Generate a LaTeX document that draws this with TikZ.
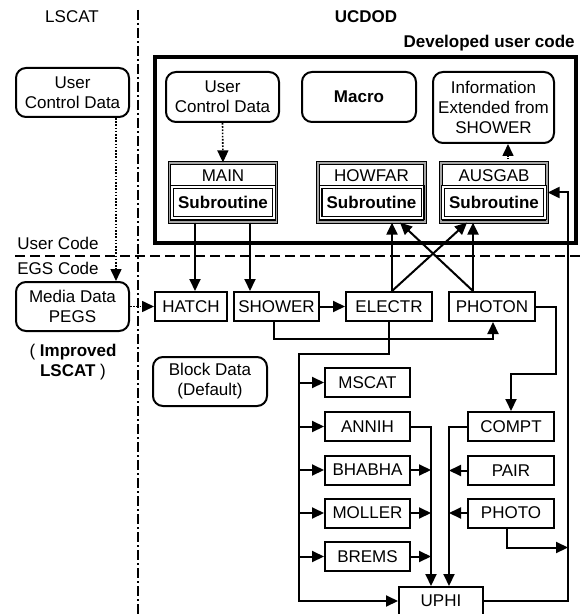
\documentclass[tikz,border=0pt]{standalone}
\usepackage{fontspec}
\setmainfont{Liberation Sans}
\usetikzlibrary{arrows.meta,calc}

\tikzset{
  every node/.style={font=\fontsize{8.5}{10}\selectfont, inner sep=0pt, align=center},
  procbox/.style={draw, line width=1pt, minimum width=42.5pt, minimum height=14.5pt},
  databox/.style={draw, line width=1pt, rounded corners=5pt, minimum width=56.5pt, minimum height=24.5pt},
  subouter/.style={draw, line width=0.6pt, double=gray!70, double distance=0.6pt, minimum width=53.5pt, minimum height=29.5pt},
  subinner/.style={draw, line width=0.6pt, double distance=0.8pt, minimum width=51pt, minimum height=15.5pt, font=\fontsize{8.5}{10}\selectfont\bfseries},
  flow/.style={line width=1pt, -{Triangle[length=6pt,width=5.5pt]}},
  dataflow/.style={flow, line width=0.8pt, dash pattern=on 0.8pt off 0.8pt},
}

\begin{document}
\begin{tikzpicture}[x=0.5pt,y=-0.5pt]
\useasboundingbox (0,0) rectangle (583,614);
% region borders
\draw[line width=1pt, dash pattern=on 5pt off 1.5pt on 1pt off 1.5pt] (138,10) -- (138,614);
\draw[line width=1pt, dash pattern=on 5pt off 2.5pt] (15,256) -- (583,256);
\node (lscat) at (72,17) {LSCAT};
\node[font=\fontsize{8.5}{10}\selectfont\bfseries] (ucdod) at (366,17) {UCDOD};
\node[font=\fontsize{8.5}{10}\selectfont\bfseries, anchor=east] (devlabel) at (575,43) {Developed user code};
\node[anchor=west] (usercode) at (17,243) {User Code};
\node[anchor=west] (egscode) at (17,268) {EGS Code};
\node[draw, line width=2pt, minimum width=210.5pt, minimum height=93pt] (devbox) at (365.5,150) {};
% data boxes
\node[databox] (ucdL) at (72.5,92.5) {User\\Control Data};
\node[databox, minimum height=25pt] (ucdI) at (222.5,97) {User\\Control Data};
\node[databox, minimum width=57pt, minimum height=25pt, font=\fontsize{8.5}{10}\selectfont\bfseries] (macro) at (359,97) {Macro};
\node[databox, minimum width=60.5pt, minimum height=35.5pt] (info) at (493.5,107.5) {Information\\Extended from\\SHOWER};
\node[databox] (media) at (72.5,306.5) {Media Data\\PEGS};
\node (improved) at (73,362) {( \textbf{Improved}\\\textbf{LSCAT} )};
\node[databox, minimum width=57pt] (blockdata) at (210,381.5) {Block Data\\(Default)};
% user subroutines
\node[subouter] (mainbox) at (223,192.5) {};
\node[subinner] (mainsub) at (223,202.5) {Subroutine};
\node (maintitle) at (223,176) {MAIN};
\node[subouter] (howfar) at (371.5,192.5) {};
\node[subinner] (howfarsub) at (371.5,202.5) {Subroutine};
\node (howfartitle) at (371.5,176) {HOWFAR};
\node[subouter, minimum width=53pt] (ausgab) at (494,192.5) {};
\node[subinner] (ausgabsub) at (494,202.5) {Subroutine};
\node (ausgabtitle) at (494,176) {AUSGAB};
% EGS routines
\node[procbox, minimum width=36pt] (hatch) at (191,306.5) {HATCH};
\node[procbox] (shower) at (276.5,306.5) {SHOWER};
\node[procbox, minimum width=43pt] (electr) at (389,306.5) {ELECTR};
\node[procbox, minimum width=43pt] (photon) at (492,306.5) {PHOTON};
\node[procbox] (mscat) at (367.5,382.5) {MSCAT};
\node[procbox] (annih) at (367.5,426.5) {ANNIH};
\node[procbox] (bhabha) at (367.5,470) {BHABHA};
\node[procbox] (moller) at (367.5,513) {MOLLER};
\node[procbox] (brems) at (367.5,556.5) {BREMS};
\node[procbox, minimum width=43pt] (compt) at (511,426.5) {COMPT};
\node[procbox, minimum width=43pt] (pair) at (511,470.5) {PAIR};
\node[procbox, minimum width=43pt] (photo) at (511,513) {PHOTO};
\node[procbox, minimum width=42pt, minimum height=14pt] (uphi) at (441,601) {UPHI};
% helper points
\coordinate (mainL) at ($(mainbox.south)+(-28,0)$);
\coordinate (mainR) at ($(mainbox.south)+(27,0)$);
\coordinate (electrtop) at ($(electr.north)+(3,0)$);
\coordinate (photontop) at ($(photon.north)+(-19,0)$);
\coordinate (ebus) at (299,354);
\coordinate (rbus) at (568,400);
\coordinate (uphiL) at ($(uphi.north)+(-10,0)$);
\coordinate (uphiR) at ($(uphi.north)+(8,0)$);
\coordinate (photobend) at ($(photo.south)+(-4,19)$);
% data flow
\draw[dataflow] ($(ucdL.south)+(43.5,0)$) -- ($(media.north)+(43.5,0)$);
\draw[dataflow] (media.east) -- (hatch.west);
\draw[dataflow] (ucdI.south) -- (mainbox.north);
\draw[dataflow] ($(ausgab.north)+(14,0)$) -- ($(ausgab.north |- info.south)+(14,0)$);
% calls
\draw[flow] (mainL) -- (mainL |- hatch.north);
\draw[flow] (mainR) -- (mainR |- shower.north);
\draw[flow] (shower.east) -- (electr.west);
\draw[flow] ($(shower.south)+(-2.5,0)$) -- ++(0,17) -| ($(photon.south)+(1,0)$);
\draw[flow] (electrtop) -- (electrtop |- howfar.south);
\draw[flow] (electrtop) -- ($(ausgab.south)+(-27,0)$);
\draw[flow] (photontop) -- (photontop |- ausgab.south);
\draw[flow] (photontop) -- ($(howfar.south)+(28.5,0)$);
\draw[flow] (electr.south) |- (ebus) |- (uphi.west);
\foreach \proc in {mscat,annih,bhabha,moller,brems}
  \draw[flow] (ebus |- \proc.west) -- (\proc.west);
\draw[flow] (annih.east) -| (uphiL);
\foreach \proc in {bhabha,moller,brems}
  \draw[flow] (\proc.east) -- (\proc.east -| uphiL);
\draw[flow] (photon.east) -- ++(20,0) -- ++(0,67) -| (compt.north);
\draw[flow] (compt.west) -| (uphiR);
\foreach \proc in {pair,photo}
  \draw[flow] (\proc.west) -- (\proc.west -| uphiR);
\draw[flow] ($(photo.south)+(-4,0)$) -- (photobend) -- (photobend -| rbus);
\draw[flow] (uphi.east) -| (rbus) |- (ausgab.east);
\end{tikzpicture}
\end{document}
